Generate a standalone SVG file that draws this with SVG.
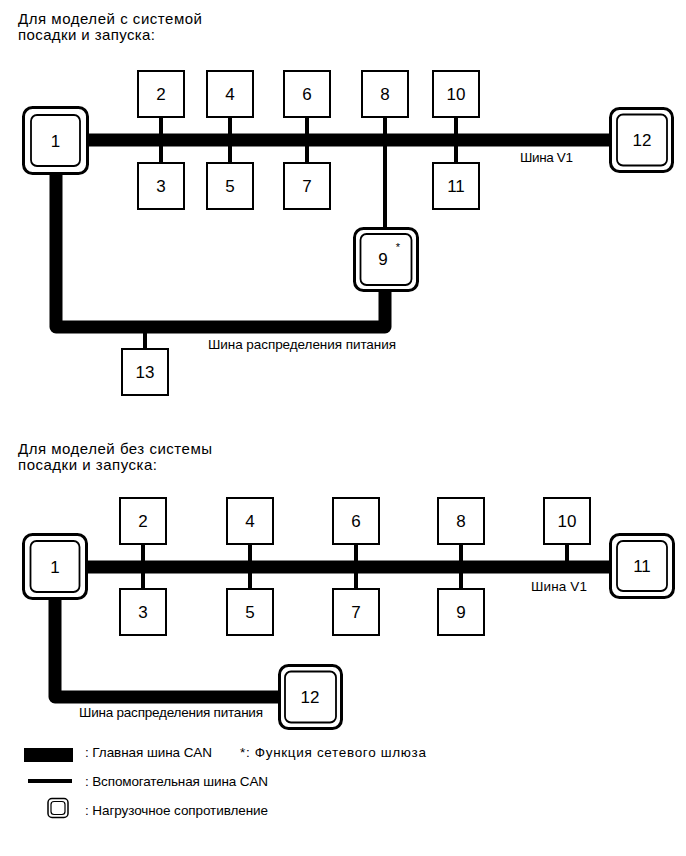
<svg xmlns="http://www.w3.org/2000/svg" width="686" height="856" viewBox="0 0 686 856">
<style>
.t{font-family:"Liberation Sans",Arial,sans-serif;fill:#000}
.title{font-size:15px}
.lbl{font-size:17px;text-anchor:middle}
.bl{font-size:13.5px}
.box{fill:#fff;stroke:#000;stroke-width:2}
.ro{fill:#fff;stroke:#000;stroke-width:3}
.ri{fill:#fff;stroke:#000;stroke-width:1.8}
.main{fill:none;stroke:#000;stroke-width:13;stroke-linejoin:round}
.sub{fill:none;stroke:#000;stroke-width:4}
</style>
<rect width="686" height="856" fill="#fff"/>
<text class="t title" x="18" y="24" textLength="184" lengthAdjust="spacing">Для моделей с системой</text>
<text class="t title" x="18" y="40" textLength="137" lengthAdjust="spacing">посадки и запуска:</text>
<text class="t title" x="18" y="454" textLength="194" lengthAdjust="spacing">Для моделей без системы</text>
<text class="t title" x="18" y="470" textLength="139" lengthAdjust="spacing">посадки и запуска:</text>

<g id="connectors">
<line class="main" x1="88" y1="140" x2="611" y2="140"/>
<path class="main" d="M56,173 V327 H385 V290"/>
<line class="sub" x1="161" y1="117" x2="161" y2="163"/>
<line class="sub" x1="230" y1="117" x2="230" y2="163"/>
<line class="sub" x1="307" y1="117" x2="307" y2="163"/>
<line class="sub" x1="385" y1="117" x2="385" y2="228"/>
<line class="sub" x1="456" y1="117" x2="456" y2="163"/>
<line class="sub" x1="145" y1="333" x2="145" y2="349"/>
<line class="main" x1="87" y1="567" x2="611" y2="567"/>
<path class="main" d="M55,598 V697 H280"/>
<line class="sub" x1="143" y1="544" x2="143" y2="589"/>
<line class="sub" x1="250" y1="544" x2="250" y2="589"/>
<line class="sub" x1="356" y1="544" x2="356" y2="589"/>
<line class="sub" x1="461" y1="544" x2="461" y2="589"/>
<line class="sub" x1="567" y1="544" x2="567" y2="561"/>
</g>

<g id="top-n1"><rect class="ro" x="23.5" y="107.5" width="64" height="66" rx="9"/><rect class="ri" x="31" y="115" width="49" height="51" rx="6"/><text class="t lbl" x="55.5" y="147">1</text></g>
<g id="top-n2"><rect class="box" x="138" y="71" width="46" height="46"/><text class="t lbl" x="161" y="100">2</text></g>
<g id="top-n3"><rect class="box" x="138" y="163" width="46" height="46"/><text class="t lbl" x="161" y="192">3</text></g>
<g id="top-n4"><rect class="box" x="207" y="71" width="46" height="46"/><text class="t lbl" x="230" y="100">4</text></g>
<g id="top-n5"><rect class="box" x="207" y="163" width="46" height="46"/><text class="t lbl" x="230" y="192">5</text></g>
<g id="top-n6"><rect class="box" x="284" y="71" width="46" height="46"/><text class="t lbl" x="307" y="100">6</text></g>
<g id="top-n7"><rect class="box" x="284" y="163" width="46" height="46"/><text class="t lbl" x="307" y="192">7</text></g>
<g id="top-n8"><rect class="box" x="362" y="71" width="46" height="46"/><text class="t lbl" x="385" y="100">8</text></g>
<g id="top-n9"><rect class="ro" x="354.5" y="228.5" width="63" height="62" rx="9"/><rect class="ri" x="360.5" y="234" width="51" height="51" rx="6"/><text class="t lbl" x="383" y="265">9</text><text class="t" x="398" y="251" font-size="11" text-anchor="middle">*</text></g>
<g id="top-n10"><rect class="box" x="433" y="71" width="46" height="46"/><text class="t lbl" x="456" y="100">10</text></g>
<g id="top-n11"><rect class="box" x="433" y="163" width="46" height="46"/><text class="t lbl" x="456" y="192">11</text></g>
<g id="top-n12"><rect class="ro" x="610.5" y="108.5" width="62" height="63" rx="9"/><rect class="ri" x="617" y="114.5" width="50" height="51" rx="6"/><text class="t lbl" x="642" y="146">12</text></g>
<g id="top-n13"><rect class="box" x="122" y="349" width="46" height="46"/><text class="t lbl" x="145" y="378">13</text></g>
<text class="t bl" x="520" y="162" textLength="53" lengthAdjust="spacing">Шина V1</text>
<text class="t bl" x="208" y="349" textLength="188" lengthAdjust="spacing">Шина распределения питания</text>

<g id="bot-n1"><rect class="ro" x="23.5" y="534.5" width="63" height="64" rx="9"/><rect class="ri" x="30.5" y="541" width="49" height="51" rx="6"/><text class="t lbl" x="55" y="573">1</text></g>
<g id="bot-n2"><rect class="box" x="120" y="498" width="46" height="46"/><text class="t lbl" x="143" y="527">2</text></g>
<g id="bot-n3"><rect class="box" x="120" y="589" width="46" height="46"/><text class="t lbl" x="143" y="618">3</text></g>
<g id="bot-n4"><rect class="box" x="227" y="498" width="46" height="46"/><text class="t lbl" x="250" y="527">4</text></g>
<g id="bot-n5"><rect class="box" x="227" y="589" width="46" height="46"/><text class="t lbl" x="250" y="618">5</text></g>
<g id="bot-n6"><rect class="box" x="333" y="498" width="46" height="46"/><text class="t lbl" x="356" y="527">6</text></g>
<g id="bot-n7"><rect class="box" x="333" y="589" width="46" height="46"/><text class="t lbl" x="356" y="618">7</text></g>
<g id="bot-n8"><rect class="box" x="438" y="498" width="46" height="46"/><text class="t lbl" x="461" y="527">8</text></g>
<g id="bot-n9"><rect class="box" x="438" y="589" width="46" height="46"/><text class="t lbl" x="461" y="618">9</text></g>
<g id="bot-n10"><rect class="box" x="544" y="498" width="46" height="46"/><text class="t lbl" x="567" y="527">10</text></g>
<g id="bot-n11"><rect class="ro" x="610.5" y="534.5" width="63" height="63" rx="9"/><rect class="ri" x="617" y="541" width="50" height="50" rx="6"/><text class="t lbl" x="642" y="572">11</text></g>
<g id="bot-n12"><rect class="ro" x="279.5" y="665.5" width="62" height="63" rx="9"/><rect class="ri" x="285" y="671.5" width="51" height="51" rx="6"/><text class="t lbl" x="310" y="703">12</text></g>
<text class="t bl" x="531" y="591" textLength="56" lengthAdjust="spacing">Шина V1</text>
<text class="t bl" x="79" y="717" textLength="184" lengthAdjust="spacing">Шина распределения питания</text>

<g id="legend">
<rect x="24" y="748" width="49" height="14" fill="#000"/>
<text class="t bl" x="85" y="757" textLength="127" lengthAdjust="spacing">: Главная шина CAN</text>
<text class="t bl" x="240" y="757" textLength="186" lengthAdjust="spacing">*: Функция сетевого шлюза</text>
<rect x="28" y="779" width="44" height="4" fill="#000"/>
<text class="t bl" x="85" y="786" textLength="183" lengthAdjust="spacing">: Вспомогательная шина CAN</text>
<rect x="48" y="798.5" width="20" height="19" rx="4" fill="#fff" stroke="#000" stroke-width="1.5"/>
<rect x="51" y="801.5" width="14" height="13" rx="3" fill="#fff" stroke="#000" stroke-width="1.2"/>
<text class="t bl" x="85" y="815" textLength="183" lengthAdjust="spacing">: Нагрузочное сопротивление</text>
</g>
</svg>
